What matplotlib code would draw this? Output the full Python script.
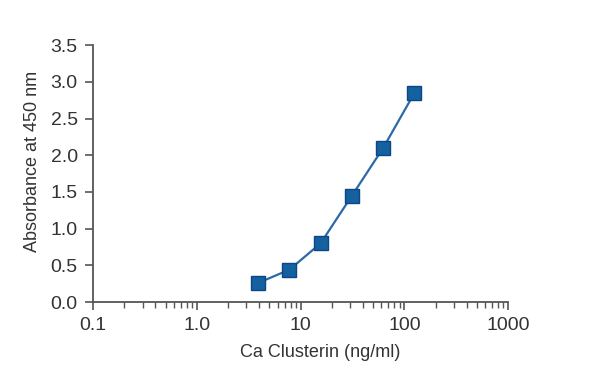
import matplotlib
matplotlib.use("Agg")
import matplotlib.pyplot as plt
from matplotlib.ticker import FixedLocator, LogLocator, NullFormatter, FixedFormatter

plt.rcParams['font.family'] = ['Liberation Sans', 'DejaVu Sans']

conc = [3.9, 7.8, 15.6, 31.25, 62.5, 125]
absorb = [0.26, 0.44, 0.80, 1.45, 2.10, 2.85]
xticks = [0.1, 1, 10, 100, 1000]
xticklabels = ['0.1', '1.0', '10', '100', '1000']
yticks = [0.0, 0.5, 1.0, 1.5, 2.0, 2.5, 3.0, 3.5]

fig = plt.figure(figsize=(6, 3.86), dpi=100)
ax = fig.add_axes([0.155, 0.2176, 0.692, 0.6654])

ax.plot(conc, absorb, color='#2b6aa6', lw=1.6, zorder=2)
ax.plot(conc, absorb, ls='none', marker='s', ms=10, mfc='#15609f', mec='#0d4688', mew=1.0, zorder=3)

ax.set_xscale('log')
ax.set_xlim(0.1, 1000)
ax.set_ylim(0, 3.5)
ax.xaxis.set_major_locator(FixedLocator(xticks))
ax.xaxis.set_major_formatter(FixedFormatter(xticklabels))
ax.xaxis.set_minor_locator(LogLocator(base=10, subs=range(2, 10)))
ax.xaxis.set_minor_formatter(NullFormatter())
ax.set_yticks(yticks)
ax.set_yticklabels([f'{v:.1f}' for v in yticks])

for s in ['top', 'right']:
    ax.spines[s].set_visible(False)
for s in ['left', 'bottom']:
    ax.spines[s].set_color('#555555')
    ax.spines[s].set_linewidth(1.3)

ax.tick_params(axis='both', which='major', direction='out', length=6, width=1.2, color='#555555',
               labelsize=14, labelcolor='#333333', pad=5)
ax.tick_params(axis='x', which='minor', direction='out', length=4, width=1.0, color='#555555')

ax.set_xlabel('Ca Clusterin (ng/ml)', fontsize=13, color='#333333')
ax.set_ylabel('Absorbance at 450 nm', fontsize=13, color='#333333')
ax.xaxis.set_label_coords(0.547, -0.165)
ax.yaxis.set_label_coords(-0.125, 0.549)

fig.savefig('out.png', dpi=100)
